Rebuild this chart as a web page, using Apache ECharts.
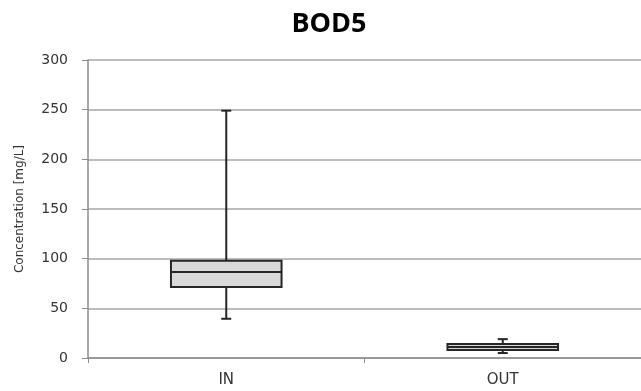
<!DOCTYPE html>
<html>
<head>
<meta charset="utf-8">
<script src="https://cdn.jsdelivr.net/npm/echarts@6/dist/echarts.min.js"></script>
<style>
  html, body { margin: 0; padding: 0; background: #fff; }
  #main { width: 641px; height: 391px; }
</style>
</head>
<body>
<div id="main"></div>
<script>
// box plot data
var categories = ['IN', 'OUT']
var whiskerMin = [39.5, 5]
var q1 = [71.5, 8]
var median = [86.5, 11]
var q3 = [98, 14]
var whiskerMax = [249, 19]

var yTicks = { min: 0, max: 300, interval: 50 }

var seriesData = categories.map(function (c, i) {
  return [i, whiskerMin[i], q1[i], median[i], q3[i], whiskerMax[i]]
})

var chart = echarts.init(document.getElementById('main'))

function renderBox(params, api) {
  var idx = api.value(0)
  var pMin = api.coord([idx, api.value(1)])
  var pQ1 = api.coord([idx, api.value(2)])
  var pMed = api.coord([idx, api.value(3)])
  var pQ3 = api.coord([idx, api.value(4)])
  var pMax = api.coord([idx, api.value(5)])
  var bandW = api.size([1, 0])[0]
  var boxW = bandW * 0.4
  var cx = pMed[0]
  var cap = 5
  var lineStyle = { stroke: '#262626', lineWidth: 2, fill: null }
  return {
    type: 'group',
    children: [
      { type: 'line', shape: { x1: cx, y1: pQ3[1], x2: cx, y2: pMax[1] }, style: lineStyle },
      { type: 'line', shape: { x1: cx, y1: pQ1[1], x2: cx, y2: pMin[1] }, style: lineStyle },
      { type: 'line', shape: { x1: cx - cap, y1: pMax[1], x2: cx + cap, y2: pMax[1] }, style: lineStyle },
      { type: 'line', shape: { x1: cx - cap, y1: pMin[1], x2: cx + cap, y2: pMin[1] }, style: lineStyle },
      {
        type: 'rect',
        shape: { x: cx - boxW / 2, y: pQ3[1], width: boxW, height: pQ1[1] - pQ3[1] },
        style: { fill: '#d9d9d9', stroke: '#262626', lineWidth: 2 }
      },
      { type: 'line', shape: { x1: cx - boxW / 2, y1: pMed[1], x2: cx + boxW / 2, y2: pMed[1] }, style: lineStyle }
    ]
  }
}

var option = {
  animation: false,
  backgroundColor: '#fff',
  title: {
    text: 'BOD5',
    left: 324,
    textAlign: 'center',
    top: 6,
    textStyle: { fontFamily: 'Open Sans', fontWeight: 'bold', fontSize: 27, color: '#000' }
  },
  grid: { left: 88, right: -5, top: 60, bottom: 33 },
  xAxis: {
    type: 'category',
    data: categories,
    axisLine: { lineStyle: { color: '#8c8c8c', width: 1.5 } },
    axisTick: { show: true, length: 5, lineStyle: { color: '#8c8c8c' } },
    axisLabel: { fontFamily: 'DejaVu Sans', fontSize: 15, color: '#333', margin: 15 }
  },
  yAxis: {
    type: 'value',
    min: yTicks.min,
    max: yTicks.max,
    interval: yTicks.interval,
    name: 'Concentration [mg/L]',
    nameLocation: 'middle',
    nameGap: 62,
    nameTextStyle: { fontFamily: 'DejaVu Sans', fontSize: 12, color: '#333' },
    axisLine: { show: true, lineStyle: { color: '#8c8c8c', width: 1.5 } },
    axisTick: { show: true, length: 6, lineStyle: { color: '#8c8c8c' } },
    axisLabel: { fontFamily: 'DejaVu Sans', fontSize: 14, color: '#333', margin: 20 },
    splitLine: { lineStyle: { color: '#a6a6a6', width: 1.5 } }
  },
  series: [{
    type: 'custom',
    renderItem: renderBox,
    encode: { x: 0, y: [1, 2, 3, 4, 5] },
    data: seriesData
  }]
}

chart.setOption(option)
</script>
</body>
</html>
